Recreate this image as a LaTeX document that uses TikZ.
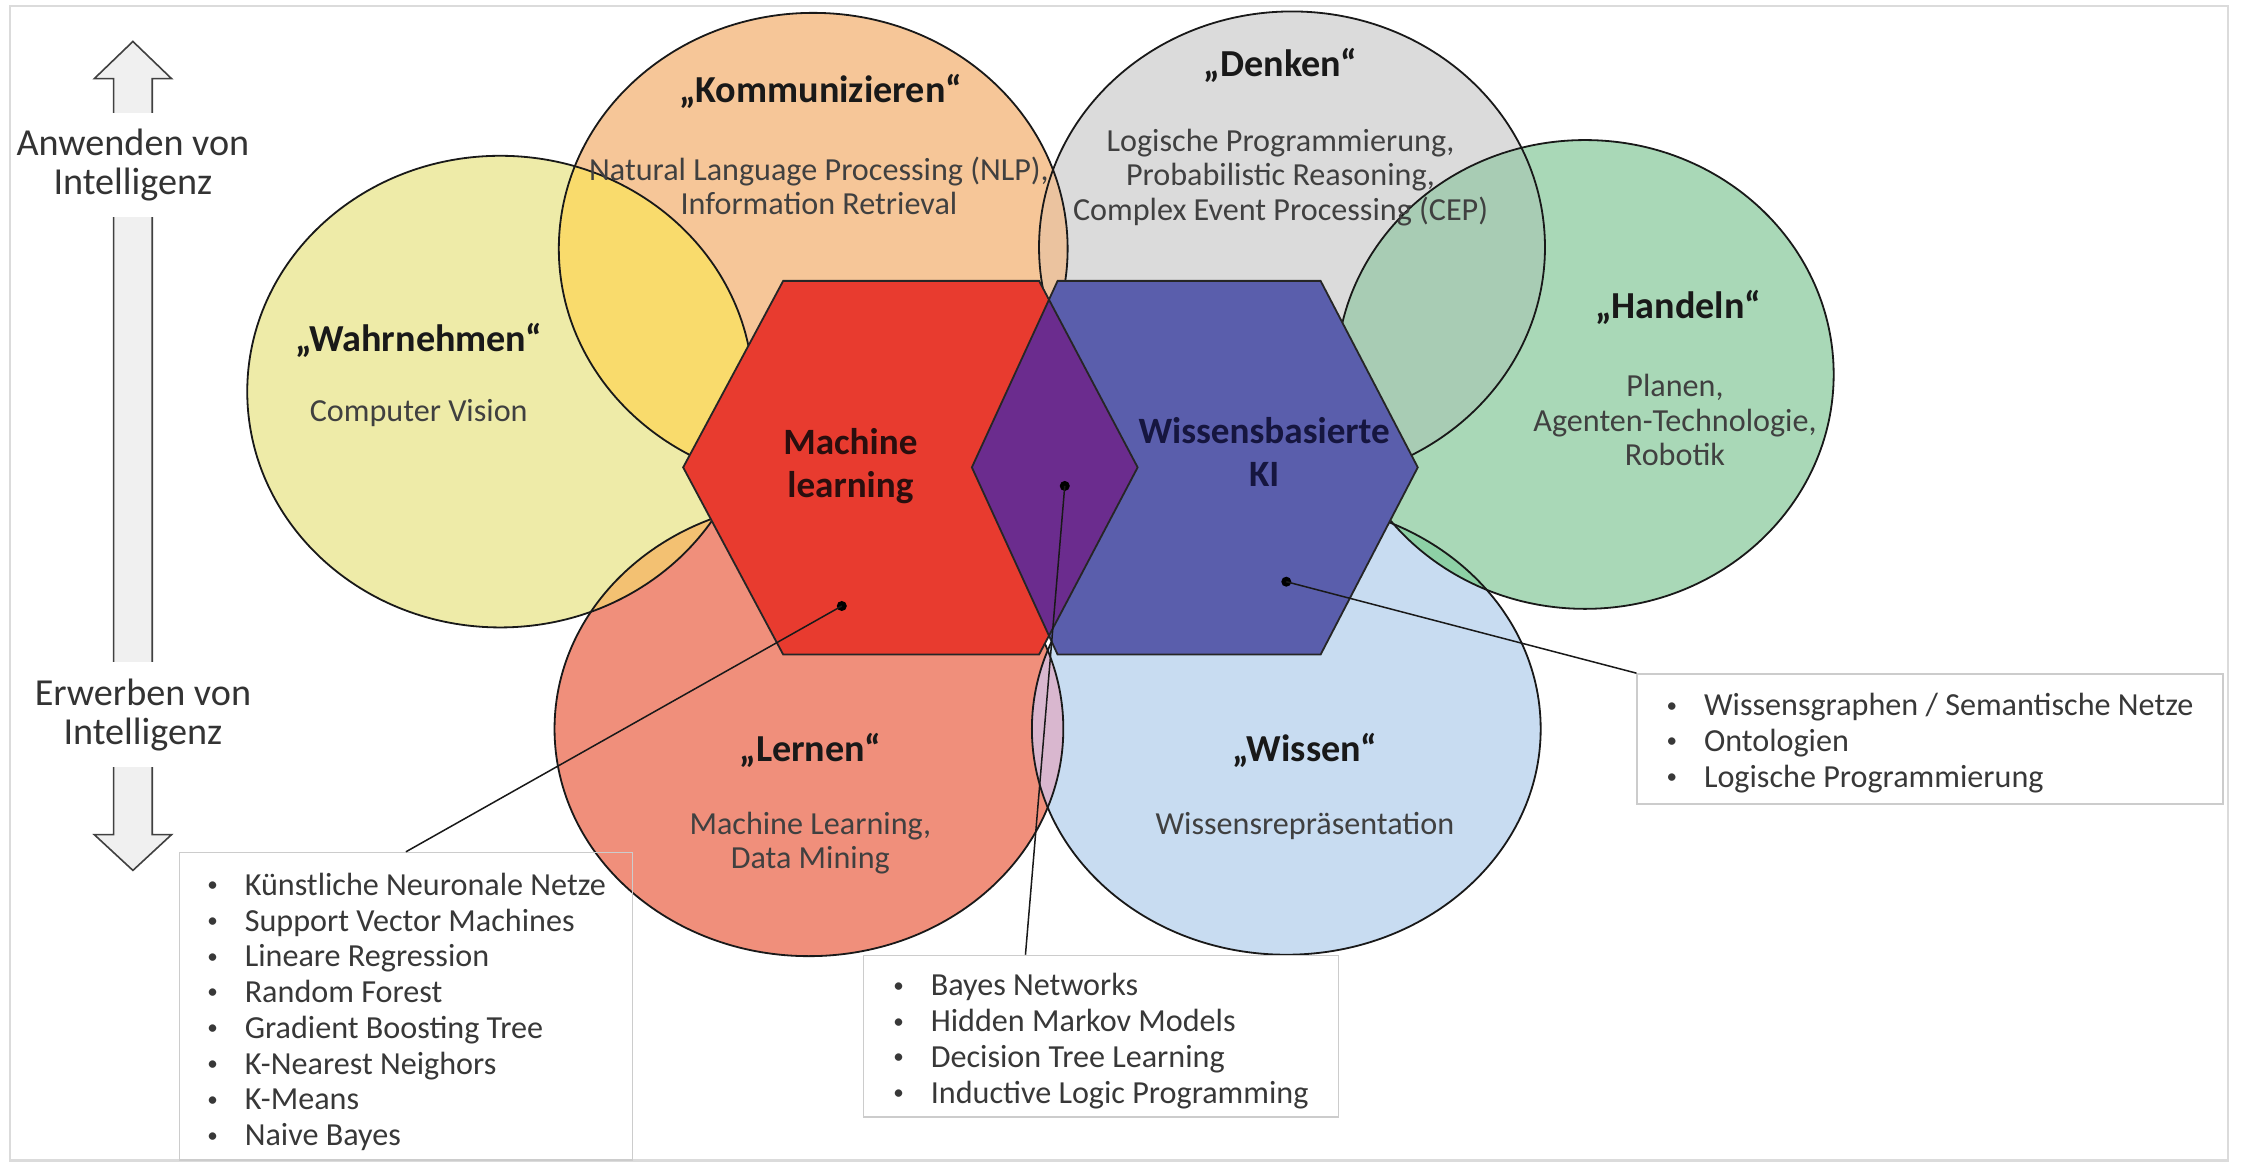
\documentclass[tikz,border=0pt]{standalone}
\usepackage{fontspec}
\setmainfont{Carlito}
\definecolor{cYel}{HTML}{EEEBA8}
\definecolor{cOra}{HTML}{F6C698}
\definecolor{cGra}{HTML}{DBDBDB}
\definecolor{cGre}{HTML}{A9D8B7}
\definecolor{cSal}{HTML}{F08F7B}
\definecolor{cBlu}{HTML}{C8DCF1}
\definecolor{cYO}{HTML}{F9DB6C}
\definecolor{cYS}{HTML}{F3C172}
\definecolor{cOD}{HTML}{EBC39F}
\definecolor{cDG}{HTML}{A8CCB4}
\definecolor{cGB}{HTML}{8DD0A5}
\definecolor{cSB}{HTML}{D9B7CF}
\definecolor{cRed}{HTML}{E83B2F}
\definecolor{cHB}{HTML}{5A5EAC}
\definecolor{cPur}{HTML}{6B2C8E}
\definecolor{cKBt}{HTML}{16163F}
\definecolor{cMLt}{HTML}{2A0E0E}
\newcommand{\lbul}{\makebox[19.2pt][l]{\hspace{0.6pt}\raisebox{1.8pt}{\fontsize{10.5}{10.5}\selectfont •}}}
\def\pWahr{(350,274) ellipse [x radius=177, y radius=165]}
\def\pKomm{(569,174) ellipse [x radius=178, y radius=165]}
\def\pDenk{(904,173) ellipse [x radius=177, y radius=165]}
\def\pHand{(1109,262) ellipse [x radius=174, y radius=164]}
\def\pLern{(566,510) ellipse [x radius=178, y radius=159]}
\def\pWiss{(900,510) ellipse [x radius=178, y radius=158]}
\def\pRed{(478,327) -- (548,196.5) -- (727,196.5) -- (796,327) -- (727,458) -- (548,458) -- cycle}
\def\pBlu{(680,327) -- (740,196.5) -- (924,196.5) -- (992,327) -- (924,458) -- (740,458) -- cycle}
\begin{document}
\begin{tikzpicture}[x=0.25mm,y=-0.25mm,
  circ/.style={draw=black!90, line width=0.9pt},
  hexline/.style={draw=black!85, line width=0.9pt},
  ttl/.style={font=\fontsize{19}{22}\selectfont\bfseries, text=black!90, inner sep=0pt},
  sub/.style={font=\fontsize{16}{17.2}\selectfont, text=black!75, align=center, inner sep=0pt},
  hexlbl/.style={font=\fontsize{18.5}{21.3}\selectfont\bfseries, align=center, inner sep=0pt},
  lst/.style={font=\fontsize{16}{17.8}\selectfont, text=black!78, align=left, inner sep=0pt, anchor=west},
  lbox/.style={draw=black!20, line width=0.8pt, inner sep=0pt, anchor=north west},
  conn/.style={draw=black!90, line width=0.75pt},
  dotn/.style={circle, fill=black, inner sep=0pt, minimum size=5pt},
  side/.style={font=\fontsize{19}{19.5}\selectfont, text=black!80, align=center, fill=white, inner xsep=2pt, inner ysep=8pt},
  blockarrow/.style={draw=black!75, fill=black!6, line width=0.8pt, line join=miter}
]
\useasboundingbox (0,0) rectangle (1568,815);
\fill[white] (0,0) rectangle (1568,815);
\draw[black!14, line width=1.2pt] (7,4) rectangle (1559,812);

% circle fills
\fill[cYel] \pWahr;
\fill[cOra] \pKomm;
\fill[cGra] \pDenk;
\fill[cGre] \pHand;
\fill[cSal] \pLern;
\fill[cBlu] \pWiss;
% overlaps
\begin{scope}\clip \pWahr; \fill[cYO] \pKomm; \end{scope}
\begin{scope}\clip \pWahr; \fill[cYS] \pLern; \end{scope}
\begin{scope}\clip \pKomm; \fill[cOD] \pDenk; \end{scope}
\begin{scope}\clip \pDenk; \fill[cDG] \pHand; \end{scope}
\begin{scope}\clip \pHand; \fill[cGB] \pWiss; \end{scope}
\begin{scope}\clip \pLern; \fill[cSB] \pWiss; \end{scope}
% outlines
\draw[circ] \pWahr;
\draw[circ] \pKomm;
\draw[circ] \pDenk;
\draw[circ] \pHand;
\draw[circ] \pLern;
\draw[circ] \pWiss;

% hexagons
\fill[cRed] \pRed;
\fill[cHB] \pBlu;
\begin{scope}\clip \pRed; \fill[cPur] \pBlu; \end{scope}
\draw[hexline, line join=miter] \pRed;
\draw[hexline, line join=miter] \pBlu;

% circle texts
\node[ttl] (tKomm) at (574,64) {„Kommunizieren“};
\node[sub] (sKomm) at (573,130) {Natural Language Processing (NLP),\\Information Retrieval};
\node[ttl] (tDenk) at (896,45.5) {„Denken“};
\node[sub] (sDenk) at (896,124) {Logische Programmierung,\\Probabilistic Reasoning,\\Complex Event Processing (CEP)};
\node[ttl] (tWahr) at (293,238) {„Wahrnehmen“};
\node[sub] (sWahr) at (293,289) {Computer Vision};
\node[ttl] (tHand) at (1174,215) {„Handeln“};
\node[sub] (sHand) at (1172,294) {Planen,\\Agenten-Technologie,\\Robotik};
\node[ttl] (tLern) at (567,525) {„Lernen“};
\node[sub] (sLern) at (567,590) {Machine Learning,\\Data Mining};
\node[ttl] (tWiss) at (913,525) {„Wissen“};
\node[sub] (sWiss) at (913,578) {Wissensrepräsentation};
\node[hexlbl, text=cMLt] (hML) at (595,326) {Machine\\learning};
\node[hexlbl, text=cKBt] (hKB) at (884.5,316) {Wissensbasierte\\KI};

% side arrow
\draw[blockarrow] (93,29) -- (120,55) -- (106.5,55) -- (106.5,584) -- (120,584) -- (93,609) -- (66,584) -- (79.5,584) -- (79.5,55) -- (66,55) -- cycle;
\node[side] (aTop) at (93,115.5) {Anwenden von\\Intelligenz};
\node[side] (aBot) at (100,500) {Erwerben von\\Intelligenz};

% boxes
\node[lbox, minimum width=79.25mm, minimum height=53.75mm] (bML) at (125,596) {};
\node[lbox, minimum width=83.1mm, minimum height=28.25mm] (bMid) at (603.5,668) {};
\node[lbox, minimum width=102.5mm, minimum height=22.75mm] (bKB) at (1145,471) {};
\node[lst] (listML) at (144,708) {\lbul Künstliche Neuronale Netze\\\lbul Support Vector Machines\\\lbul Lineare Regression\\\lbul Random Forest\\\lbul Gradient Boosting Tree\\\lbul K-Nearest Neighors\\\lbul K-Means\\\lbul Naive Bayes};
\node[lst] (listMid) at (624,728.5) {\lbul Bayes Networks\\\lbul Hidden Markov Models\\\lbul Decision Tree Learning\\\lbul Inductive Logic Programming};
\node[lst] (listKB) at (1165,520) {\lbul Wissensgraphen / Semantische Netze\\\lbul Ontologien\\\lbul Logische Programmierung};

% connectors
\node[dotn] (dML) at (589,424) {};
\node[dotn] (dMid) at (745,340) {};
\node[dotn] (dKB) at (900,407) {};
\coordinate (eML) at (284,596);
\coordinate (eMid) at (717.5,668);
\draw[conn] (dML.center) -- (eML);
\draw[conn] (dMid.center) -- (eMid);
\draw[conn] (dKB.center) -- (bKB.north west);
\end{tikzpicture}
\end{document}
